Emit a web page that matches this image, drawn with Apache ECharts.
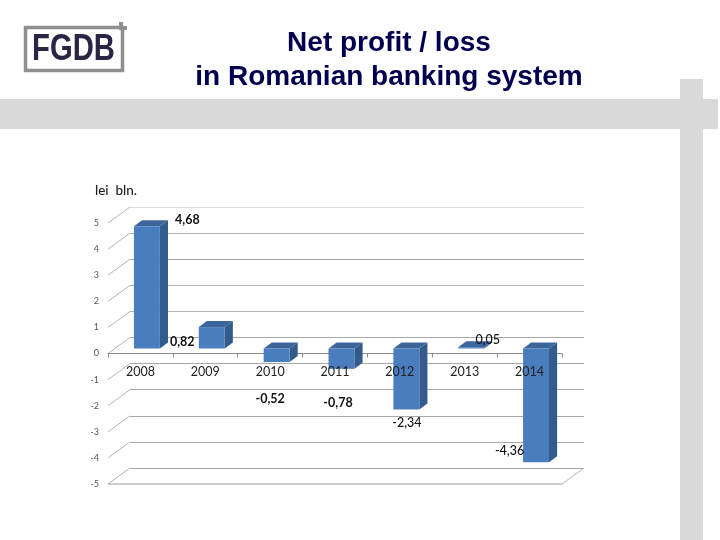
<!DOCTYPE html>
<html><head><meta charset="utf-8">
<style>html,body{margin:0;padding:0;background:#fff}#c{width:720px;height:540px}</style>
<script src="https://cdn.jsdelivr.net/npm/echarts@6/dist/echarts.min.js"></script>
</head><body><div id="c"></div>
<script>
const categories = ['2008','2009','2010','2011','2012','2013','2014'];
const profit = [4.68,0.82,-0.52,-0.78,-2.34,0.05,-4.36];
const yTicks = [-5,-4,-3,-2,-1,0,1,2,3,4,5];
const titleText = 'Net profit / loss\nin Romanian banking system';
const unitText = 'lei  bln.';
const logoText = 'FGDB';

// layout of the pseudo-3D look
const G = {left:108, top:223, width:454, height:261};
const WALL = {dx:22, dy:-16};
const labelShift = [[47,-11],[-23,10],[0,32],[3,29],[7,8],[23,-12],[-20,-16]];
const labelWeight = ['bold','bold','bold','bold','500','500','500'];

const chart = echarts.init(document.getElementById('c'), null, {renderer:'canvas'});

function renderWall(params, api){
  const v = api.value(0), cs = params.coordSys;
  const y = api.coord([0, v])[1];
  const st = {stroke:'#b4b4b4', lineWidth:1, fill:null};
  const kids = [{type:'line', shape:{x1:cs.x,y1:y,x2:cs.x+WALL.dx,y2:y+WALL.dy}, style:st}];
  if (v === yTicks[0]) {
    const rx = cs.x+cs.width;
    kids.push({type:'line', shape:{x1:cs.x,y1:y,x2:rx,y2:y}, style:{stroke:'#9a9a9a',lineWidth:1.2,fill:null}});
    kids.push({type:'line', shape:{x1:rx,y1:y,x2:rx+WALL.dx,y2:y+WALL.dy}, style:st});
  }
  return {type:'group', children:kids};
}

function renderBar(params, api){
  const i = api.value(0), v = api.value(1);
  const band = api.size([1,0])[0];
  const c0 = api.coord([i,0]), c1 = api.coord([i,v]);
  const w = band*0.4, ox = band*0.1, oy = -5, dx = band*0.125, dy = -6;
  const x0 = c0[0]-w/2+ox, yb = c0[1]+oy, yt = c1[1]+oy;
  const hi = Math.min(yb,yt), lo = Math.max(yb,yt);
  return {type:'group', children:[
    {type:'polygon', shape:{points:[[x0+w,hi],[x0+w+dx,hi+dy],[x0+w+dx,lo+dy],[x0+w,lo]]}, style:{fill:'#335b8c'}},
    {type:'polygon', shape:{points:[[x0,hi],[x0+dx,hi+dy],[x0+w+dx,hi+dy],[x0+w,hi]]}, style:{fill:'#3c659c'}},
    {type:'rect', shape:{x:x0,y:hi,width:w,height:lo-hi}, style:{fill:'#4a7dbd'}}
  ]};
}

function renderLabel(params, api){
  const i = api.value(0), v = api.value(1);
  const c = api.coord([i,v]);
  return {type:'text', x:c[0]+labelShift[i][0], y:c[1]+labelShift[i][1],
    style:{text:v.toFixed(2).replace('.',','), align:'center', verticalAlign:'middle',
      font:labelWeight[i]+' 12.5px Lato, sans-serif', fill:'#111'}};
}

const mainGrid = {left:G.left,top:G.top,width:G.width,height:G.height};

chart.setOption({
  animation:false,
  backgroundColor:'#fff',
  title:{text:titleText,left:384,top:21,textAlign:'center',
    textStyle:{fontFamily:'Liberation Sans',fontWeight:'bold',fontSize:28,lineHeight:34,color:'#00004f'}},
  graphic:[
    {type:'rect',z:-5,shape:{x:0,y:99,width:718,height:30},style:{fill:'#d9d9d9'}},
    {type:'rect',z:-5,shape:{x:680,y:79,width:23,height:461},style:{fill:'#d9d9d9'}},
    {type:'rect',shape:{x:25.5,y:27.5,width:97,height:43},style:{fill:'#fff',stroke:'#8f8f8f',lineWidth:3.5}},
    {type:'rect',shape:{x:119,y:22,width:4,height:8},style:{fill:'#8f8f8f'}},
    {type:'rect',shape:{x:119,y:26,width:8,height:4},style:{fill:'#8f8f8f'}},
    {type:'text',x:73.5,y:50,scaleX:0.79,style:{text:logoText,align:'center',verticalAlign:'middle',
      font:'bold 37px "Liberation Sans"',fill:'#2a2545'}},
    {type:'text',x:95,y:191,style:{text:unitText,align:'left',verticalAlign:'middle',
      font:'500 13.5px Lato, sans-serif',fill:'#222'}}
  ],
  grid:[
    mainGrid,
    {left:G.left+WALL.dx,top:G.top+WALL.dy,width:G.width,height:G.height},
    Object.assign({}, mainGrid)
  ],
  xAxis:[
    {gridIndex:0,type:'category',data:categories,z:1,
     axisLine:{show:true,onZero:true,lineStyle:{color:'#8c8c8c',width:1}},
     axisTick:{show:true,length:4,lineStyle:{color:'#8c8c8c'}},
     axisLabel:{show:false}},
    {gridIndex:1,type:'category',data:categories,show:false},
    {gridIndex:2,type:'category',data:categories,z:10,position:'bottom',offset:-G.height/2,
     axisLine:{show:false,onZero:false},axisTick:{show:false},
     axisLabel:{margin:12,fontFamily:'Lato',fontSize:12.5,color:'#222'}}
  ],
  yAxis:[
    {gridIndex:0,type:'value',min:-5,max:5,interval:1,
     axisLine:{show:false},axisTick:{show:false},splitLine:{show:false},
     axisLabel:{margin:9,fontFamily:'Lato',fontSize:9,color:'#555'}},
    {gridIndex:1,type:'value',min:-5,max:5,interval:1,
     axisLine:{show:false},axisTick:{show:false},axisLabel:{show:false},
     splitLine:{show:true,lineStyle:{color:['#a8a8a8','#a8a8a8','#a8a8a8','#a8a8a8','#a8a8a8','#a8a8a8','#b4b4b4','#b4b4b4','#a8a8a8','#b4b4b4','#dcdcdc'],width:1}}},
    {gridIndex:2,type:'value',min:-5,max:5,interval:1,
     axisLine:{show:false},axisTick:{show:false},axisLabel:{show:false},splitLine:{show:false}}
  ],
  series:[
    {type:'custom',name:'walls',xAxisIndex:0,yAxisIndex:0,z:1,silent:true,
     renderItem:renderWall,data:yTicks.map(v=>[v]),encode:{y:0}},
    {type:'custom',name:'profit',xAxisIndex:0,yAxisIndex:0,z:3,
     renderItem:renderBar,data:profit.map((v,i)=>[i,v]),encode:{x:0,y:1}},
    {type:'custom',name:'labels',xAxisIndex:0,yAxisIndex:0,z:12,silent:true,
     renderItem:renderLabel,data:profit.map((v,i)=>[i,v]),encode:{x:0,y:1}}
  ]
});
</script></body></html>
